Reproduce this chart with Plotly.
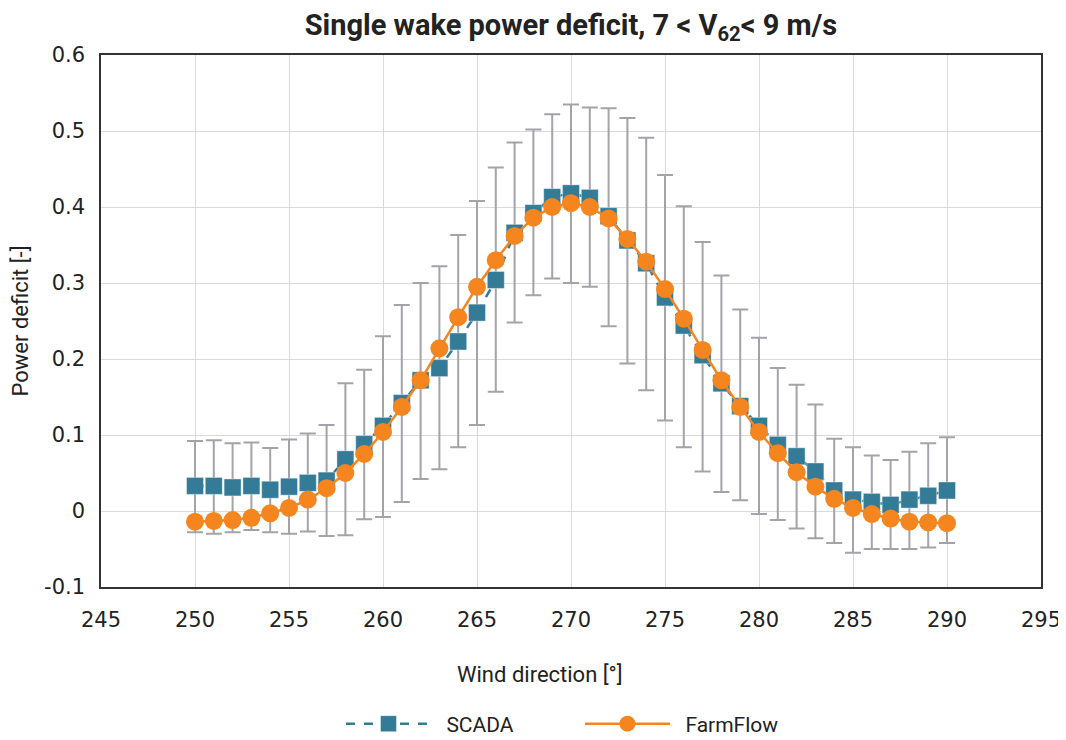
import plotly.graph_objects as go

wind_dir = list(range(250, 291))

scada = [0.033, 0.033, 0.031, 0.033, 0.028, 0.032, 0.037, 0.040, 0.068, 0.088,
         0.112, 0.142, 0.172, 0.188, 0.223, 0.261, 0.304, 0.366, 0.392, 0.413,
         0.418, 0.412, 0.388, 0.356, 0.326, 0.281, 0.244, 0.205, 0.168, 0.138,
         0.112, 0.087, 0.072, 0.052, 0.027, 0.015, 0.012, 0.008, 0.015, 0.020,
         0.027]

scada_top = [0.092, 0.093, 0.089, 0.090, 0.083, 0.094, 0.102, 0.113, 0.168, 0.186,
             0.230, 0.271, 0.300, 0.322, 0.363, 0.408, 0.452, 0.485, 0.502, 0.522,
             0.535, 0.531, 0.530, 0.517, 0.491, 0.442, 0.401, 0.354, 0.310, 0.265,
             0.228, 0.188, 0.166, 0.140, 0.095, 0.084, 0.073, 0.067, 0.078, 0.089,
             0.097]

scada_bottom = [-0.028, -0.030, -0.028, -0.025, -0.028, -0.030, -0.027, -0.033, -0.032, -0.011,
                -0.008, 0.012, 0.042, 0.055, 0.084, 0.113, 0.157, 0.248, 0.284, 0.306,
                0.300, 0.295, 0.243, 0.194, 0.159, 0.119, 0.084, 0.052, 0.025, 0.014,
                -0.004, -0.012, -0.023, -0.036, -0.042, -0.055, -0.050, -0.050, -0.050, -0.048,
                -0.042]

farmflow = [-0.014, -0.013, -0.012, -0.009, -0.003, 0.004, 0.015, 0.030, 0.050, 0.075,
            0.104, 0.137, 0.172, 0.214, 0.255, 0.295, 0.330, 0.362, 0.386, 0.400,
            0.405, 0.400, 0.385, 0.358, 0.328, 0.292, 0.253, 0.212, 0.172, 0.137,
            0.104, 0.076, 0.051, 0.032, 0.016, 0.004, -0.004, -0.010, -0.014, -0.015,
            -0.016]

y_ticks = [-0.1, 0, 0.1, 0.2, 0.3, 0.4, 0.5, 0.6]
y_tick_labels = ["-0.1", "0", "0.1", "0.2", "0.3", "0.4", "0.5", "0.6"]
x_ticks = [245, 250, 255, 260, 265, 270, 275, 280, 285, 290, 295]

err_plus = [t - s for t, s in zip(scada_top, scada)]
err_minus = [s - b for s, b in zip(scada, scada_bottom)]

FONT = "Roboto"
TICKFONT = "DejaVu Sans"
TXT = "#222222"
BLUE = "#347B98"
ORANGE = "#F5861F"
GREY = "#A3A3AA"

fig = go.Figure()
fig.add_trace(go.Scatter(
    x=wind_dir, y=scada, name="\u00a0\u00a0SCADA", mode="lines+markers",
    line=dict(color=BLUE, width=2.5, dash="dash"),
    marker=dict(symbol="square", size=17, color=BLUE,
                line=dict(color="rgba(255,255,255,0.4)", width=1)),
    error_y=dict(type="data", symmetric=False, array=err_plus, arrayminus=err_minus,
                 color=GREY, thickness=2, width=8),
))
fig.add_trace(go.Scatter(
    x=wind_dir, y=farmflow, name="\u00a0\u00a0FarmFlow", mode="lines+markers",
    line=dict(color=ORANGE, width=2.5),
    marker=dict(symbol="circle", size=18, color=ORANGE),
))

fig.update_layout(
    width=1066, height=740,
    margin=dict(l=93, r=33, t=47, b=161, autoexpand=False),
    paper_bgcolor="white", plot_bgcolor="white",
    font=dict(family=FONT, color=TXT, size=21),
    title=dict(text="<b>Single wake power deficit, 7 &lt; V<sub>62</sub>&lt; 9 m/s</b>",
               x=0.5, xref="paper", xanchor="center",
               y=1 - 17 / 740, yref="container", yanchor="middle",
               font=dict(size=29, color=TXT, family=FONT)),
    legend=dict(orientation="h", x=0.2553, xanchor="left", y=-(716 - 579) / 532,
                yanchor="middle", yref="paper", itemwidth=85, entrywidth=139,
                font=dict(size=21, color=TXT, family=FONT)),
    showlegend=True,
    annotations=[dict(
        text="Wind direction [°]", xref="paper", yref="paper",
        x=(532 - 93) / 940, y=-(666 - 579) / 532, xanchor="center", yanchor="middle",
        showarrow=False, font=dict(size=22, color=TXT, family=FONT),
    )],
)
fig.update_xaxes(
    range=[245, 295], tickvals=x_ticks, showgrid=True, gridcolor="#D9D9D9", gridwidth=1,
    showline=True, linecolor="#333333", linewidth=2, mirror=True, zeroline=False,
    automargin=False,
    ticks="", tickfont=dict(size=21, color=TXT, family=TICKFONT), ticklabelstandoff=13,
)
fig.update_yaxes(
    range=[-0.1, 0.6], tickvals=y_ticks, ticktext=y_tick_labels, showgrid=True,
    gridcolor="#D9D9D9", gridwidth=1, showline=True, linecolor="#333333", linewidth=1.5,
    mirror=True, zeroline=False, automargin=False,
    ticks="", tickfont=dict(size=21, color=TXT, family=TICKFONT),
    ticklabelstandoff=10,
    title=dict(text="Power deficit [-]", standoff=12, font=dict(size=22, family=FONT)),
)

fig.write_html("out.html")
